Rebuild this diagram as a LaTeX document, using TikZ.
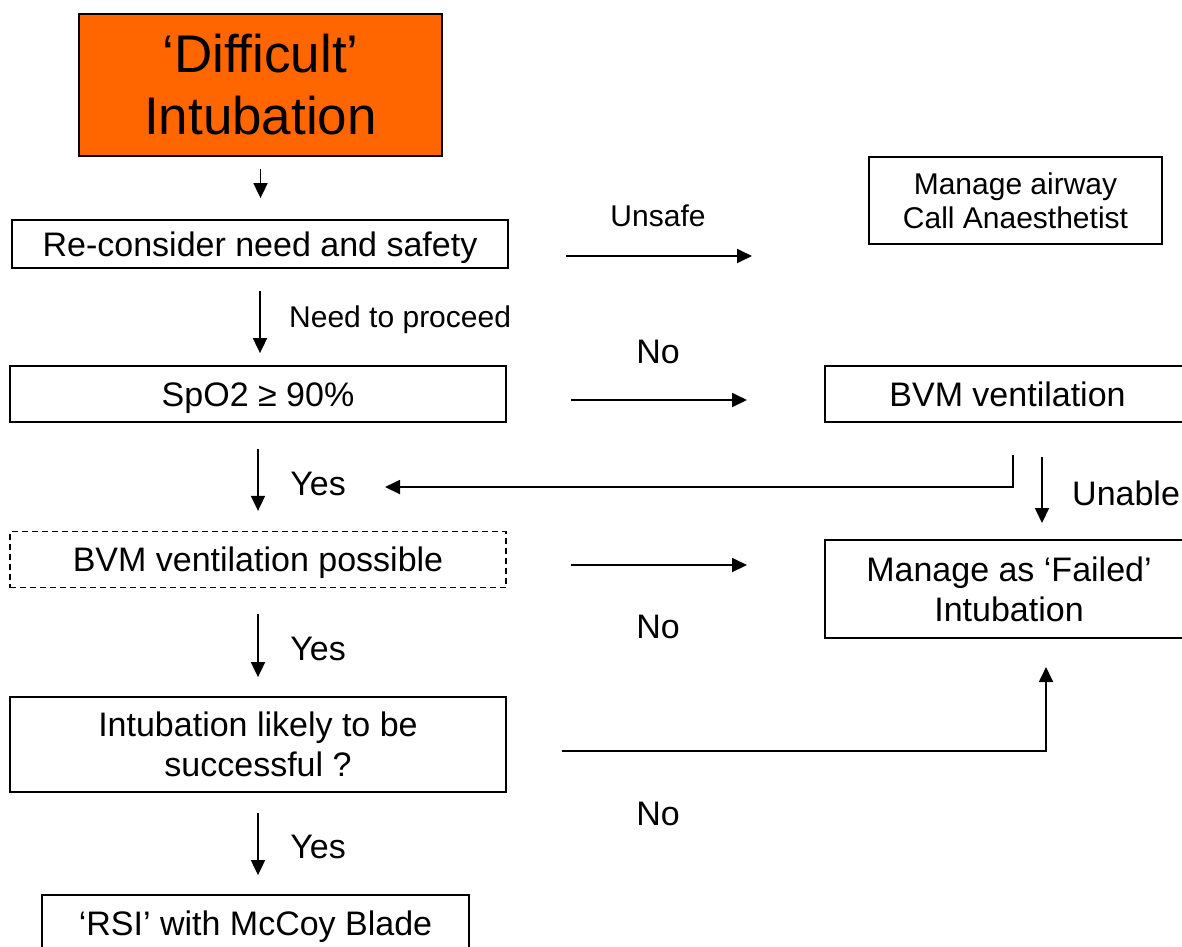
\documentclass[tikz,border=0pt]{standalone}
\usepackage{fontspec}
\setmainfont{Liberation Sans}
\usetikzlibrary{arrows.meta}
\definecolor{startorange}{HTML}{FF6600}
\begin{document}
\begin{tikzpicture}[x=1pt,y=-1pt,
  box/.style={draw=black, line width=1.8pt, inner sep=0pt, align=center,
              font=\fontsize{34}{40}\selectfont},
  oneline/.style={text height=28pt, text depth=4pt},
  arr/.style={line width=1.8pt, -{Triangle[length=15pt,width=14pt]}},
  lbl/.style={inner sep=0pt, anchor=base, font=\fontsize{34}{40}\selectfont},
  smalllbl/.style={inner sep=0pt, anchor=base, font=\fontsize{30}{34}\selectfont}]
\useasboundingbox (0,0) rectangle (1182,946);
\clip (0,0) rectangle (1182,946);

% boxes
\node[box, fill=startorange, minimum width=363, minimum height=142,
      font=\fontsize{53}{62}\selectfont] (start) at (260.5,85) {‘Difficult’\\Intubation};
\node[box, oneline, minimum width=496, minimum height=48] (recon) at (260,244) {Re-consider need and safety};
\node[box, minimum width=293, minimum height=87,
      font=\fontsize{30}{34}\selectfont] (anaes) at (1015.5,200.5) {Manage airway\\Call Anaesthetist};
\node[box, oneline, minimum width=496, minimum height=56] (spo2) at (258,394) {SpO2 ≥ 90\%};
\node[box, oneline, minimum width=365, minimum height=56] (bvm) at (1007.5,394) {BVM ventilation};
\node[box, oneline, dashed, dash pattern=on 6pt off 4pt, line width=1.3pt,
      minimum width=496, minimum height=56] (bvmposs) at (258,559.5) {BVM ventilation possible};
\node[box, minimum width=368, minimum height=98] (failed) at (1009,589) {Manage as ‘Failed’\\Intubation};
\node[box, minimum width=496, minimum height=95] (likely) at (258,744.5) {Intubation likely to be\\successful ?};
\node[box, oneline, minimum width=427, minimum height=56] (rsi) at (255.5,923) {‘RSI’ with McCoy Blade};

% main vertical flow
\draw[arr, shorten <=12pt, shorten >=21pt] (start.south) -- (start.south |- recon.north);
\draw[arr, shorten <=22pt, shorten >=12pt] (recon.south) -- (recon.south |- spo2.north);
\draw[arr, shorten <=26pt, shorten >=20pt] (spo2.south) -- (spo2.south |- bvmposs.north);
\draw[arr, shorten <=26pt, shorten >=19pt] (bvmposs.south) -- (bvmposs.south |- likely.north);
\draw[arr, shorten <=20pt, shorten >=19pt] (likely.south) -- (likely.south |- rsi.north);

% side branches
\coordinate (unsafeA) at (566,256);  \coordinate (unsafeB) at (752,256);
\coordinate (noA) at (571,400);      \coordinate (noB) at (747,400);
\coordinate (noC) at (571,565);      \coordinate (noD) at (747,565);
\draw[arr] (unsafeA) -- (unsafeB);
\draw[arr] (noA) -- (noB);
\draw[arr] (noC) -- (noD);

% return path from BVM ventilation
\coordinate (backA) at (1013,455);
\coordinate (backB) at (385,487);
\draw[arr] (backA) |- (backB);
\coordinate (unableA) at (1042,457); \coordinate (unableB) at (1042,523);
\draw[arr] (unableA) -- (unableB);

% unlikely intubation path
\coordinate (failA) at (562,751);
\coordinate (failB) at (1046,667);
\draw[arr] (failA) -| (failB);

% labels
\node[smalllbl] (lunsafe) at (658,226) {Unsafe};
\node[smalllbl, anchor=base west] (lneed) at (289,327) {Need to proceed};
\node[lbl] (lno1) at (658,363) {No};
\node[lbl] (lyes1) at (318,495) {Yes};
\node[lbl, anchor=base west] (lunable) at (1072,505) {Unable};
\node[lbl] (lno2) at (658,638) {No};
\node[lbl] (lyes2) at (318,660) {Yes};
\node[lbl] (lno3) at (658,825) {No};
\node[lbl] (lyes3) at (318,858) {Yes};
\end{tikzpicture}
\end{document}
